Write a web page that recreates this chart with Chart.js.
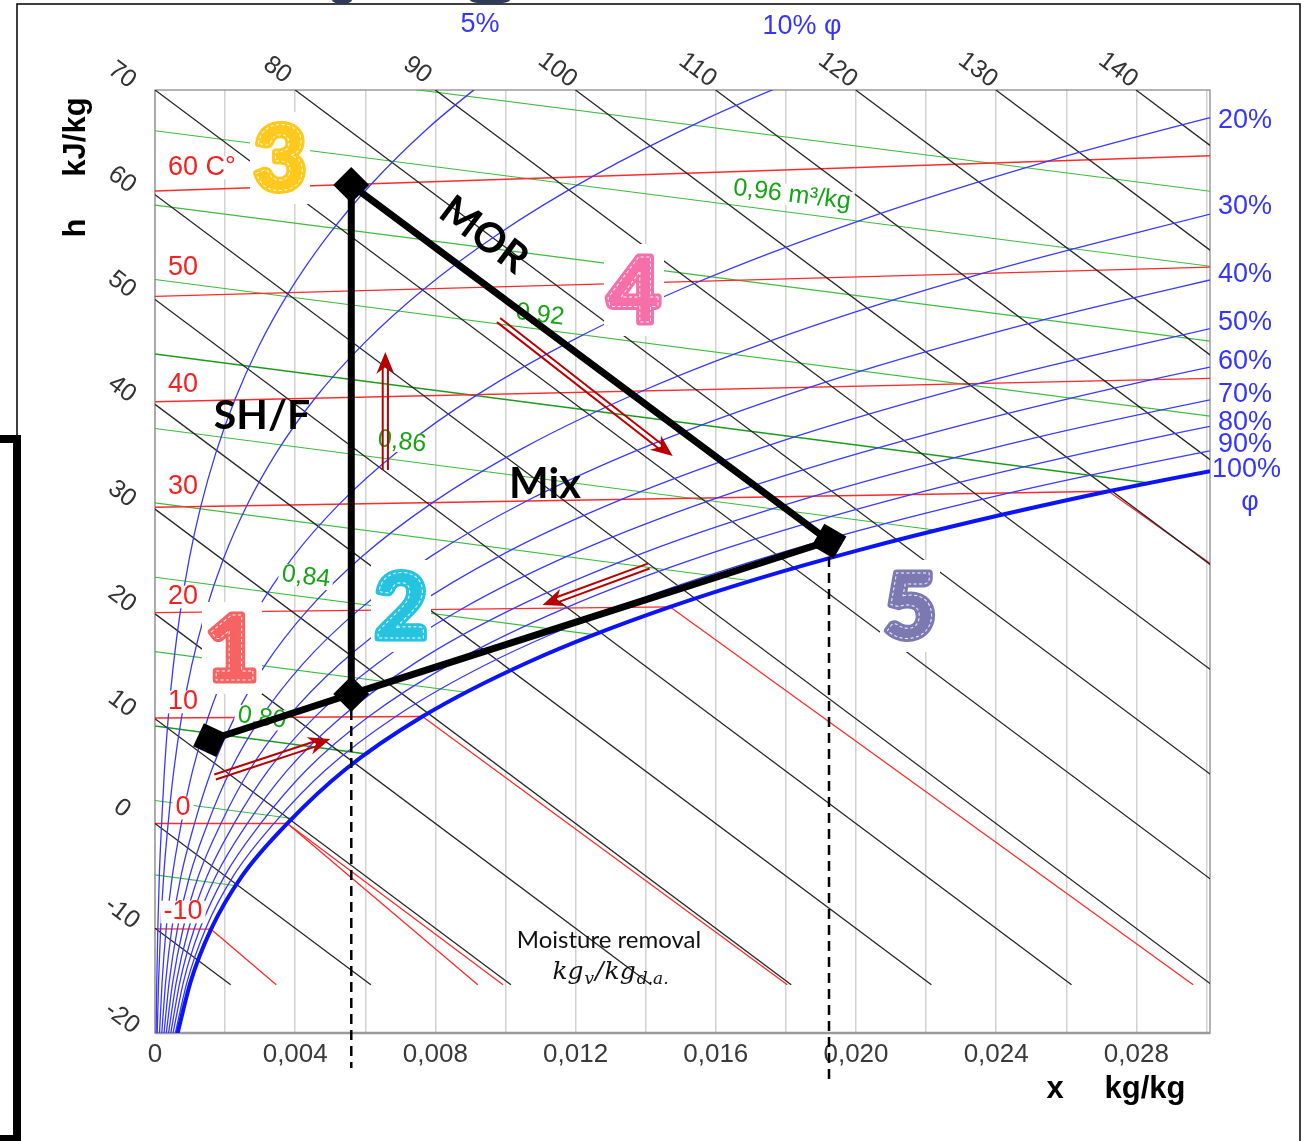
<!DOCTYPE html>
<html>
<head>
<meta charset="utf-8">
<title>h-x diagram</title>
<script src="https://cdn.jsdelivr.net/npm/chart.js@4.4.1/dist/chart.umd.min.js"></script>
<style>
  html, body { margin: 0; padding: 0; background: #fff; }
  canvas { display: block; }
</style>
</head>
<body>
<canvas id="mollier" width="1309" height="1141"></canvas>
<script>
// ---- values: x in g/kg, t in °C, y = oblique h-axis (kJ/kg) ----
const tempsC = [-20, -15, -10, -5, 0, 5, 10, 15, 20, 25, 30, 35, 40, 45, 50, 55, 60, 65, 70];
const rhLevels = [5, 10, 20, 30, 40, 50, 60, 70, 80, 90, 100];
const rh5   = [0.032, 0.051, 0.080, 0.123, 0.188, 0.268, 0.377, 0.524, 0.719, 0.974, 1.306, 1.732, 2.275, 2.958, 3.814, 4.875, 6.181, 7.779, 9.723];
const rh10  = [0.063, 0.102, 0.160, 0.247, 0.375, 0.536, 0.755, 1.048, 1.439, 1.951, 2.617, 3.474, 4.566, 5.945, 7.675, 9.827, 12.486, 15.754, 19.754];
const rh20  = [0.127, 0.203, 0.319, 0.494, 0.751, 1.073, 1.511, 2.100, 2.885, 3.915, 5.257, 6.987, 9.200, 12.005, 15.541, 19.970, 25.484, 32.327];
const rh30  = [0.190, 0.305, 0.479, 0.741, 1.128, 1.611, 2.270, 3.156, 4.338, 5.891, 7.919, 10.540, 13.902, 18.183, 23.607, 30.444];
const rh40  = [0.254, 0.406, 0.639, 0.988, 1.505, 2.150, 3.030, 4.215, 5.797, 7.880, 10.604, 14.133, 18.676, 24.482, 31.879];
const rh50  = [0.317, 0.508, 0.799, 1.236, 1.882, 2.690, 3.792, 5.278, 7.263, 9.881, 13.311, 17.768, 23.521, 30.907];
const rh60  = [0.381, 0.610, 0.958, 1.484, 2.259, 3.231, 4.556, 6.344, 8.736, 11.895, 16.042, 21.444, 28.440, 37.461];
const rh70  = [0.444, 0.711, 1.119, 1.732, 2.637, 3.772, 5.322, 7.414, 10.216, 13.922, 18.797, 25.162, 33.436];
const rh80  = [0.508, 0.813, 1.279, 1.979, 3.016, 4.315, 6.090, 8.487, 11.703, 15.962, 21.575, 28.924, 38.507];
const rh90  = [0.571, 0.915, 1.439, 2.228, 3.395, 4.858, 6.859, 9.565, 13.197, 18.015, 24.378, 32.730];
const rh100 = [0.635, 1.016, 1.600, 2.476, 3.775, 5.403, 7.631, 10.646, 14.698, 20.081, 27.205, 36.580];
const rhCurves = [rh5, rh10, rh20, rh30, rh40, rh50, rh60, rh70, rh80, rh90, rh100];

// isotherms (red): unsaturated part from x = 0 to saturation / right edge
const isoTemps = [-10, 0, 10, 20, 30, 40, 50, 60];
const isoEndX  = [1.600, 3.775, 7.631, 14.698, 27.205, 31, 31, 31];
// fog isotherms below the saturation curve
const fogTemps  = [-10, 0, 0, 10, 20, 30];
const fogStartX = [1.600, 3.775, 3.775, 7.631, 14.698, 27.205];
const fogEndX   = [3.46, 9.21, 9.93, 18.04, 29.62, 31];
const fogEndY   = [-15.4, -15.4, -15.4, -15.4, -15.4, 22.69];

// enthalpy lines (black), kJ/kg, they stop at the lower fog limit
const enthalpyLevels = [-10, 0, 10, 20, 30, 40, 50, 60, 70, 80, 90, 100, 110, 120, 130, 140];
const hLeftLabels = [-20, -10, 0, 10, 20, 30, 40, 50, 60, 70];
const hTopLabels = [80, 90, 100, 110, 120, 130, 140];
const fogFloorY = -15.4;

// specific volume lines (green), m³/kg
const volLevels = [0.76, 0.78, 0.80, 0.82, 0.84, 0.86, 0.88, 0.90, 0.92, 0.94, 0.96, 0.98];
const volStartY = [-4.91, 2.19, 9.30, 16.40, 23.50, 30.60, 37.70, 44.81, 51.91, 59.01, 66.11, 73.22];
const volEndX   = [2.32, 3.93, 6.09, 8.92, 12.52, 17.0, 22.3, 28.36, 31, 31, 31, 31];
const volEndY   = [-5.94, 0.47, 6.61, 12.49, 18.02, 23.17, 27.99, 32.49, 38.48, 45.64, 52.79, 59.95];

// process drawn over the diagram
const stateNames = ['1', '2', '3', '5'];
const stateX = [1.571, 5.60, 5.60, 19.23];
const stateY = [7.96, 12.35, 60.93, 26.95];
const processOrder = [0, 1, 2, 3, 1];       // 1 -> 2 -> 3 -> 5 -> 2
const markerRot = [25, 45, 45, 30];
const dashBottomY = [-23.34, -24.49];        // dashed drops from 2 and 5
const flowArrows = [
  [1.714, 4.43, 5.0, 8.06],
  [6.571, 33.73, 6.571, 44.99],
  [9.80, 48.04, 14.771, 35.06],
  [14.086, 24.57, 11.057, 20.84]
];

const X_MAX = 0.0301, Y_MIN = -20, Y_MAX = 70;

// oblique Mollier ordinate
const mollierY = (t, xg) => t * (1.006 + 0.00186 * xg);
const pt = (xg, y) => ({ x: xg / 1000, y: y });

const lineBase = { showLine: true, pointRadius: 0, pointHoverRadius: 0, fill: false };
const datasets = [];

// overlays (low order = drawn last)
datasets.push({
  data: stateX.map((x, i) => pt(x, stateY[i])),
  showLine: false, pointStyle: 'rect', pointRadius: 18, pointRotation: markerRot,
  backgroundColor: '#000', borderColor: '#000', borderWidth: 0, order: 0, clip: false
});
datasets.push(Object.assign({}, lineBase, {
  data: processOrder.map(i => pt(stateX[i], stateY[i])),
  borderColor: '#000', borderWidth: 7, tension: 0, order: 1, borderJoinStyle: 'miter'
}));
datasets.push(Object.assign({}, lineBase, {
  data: [pt(stateX[1], stateY[1]), pt(stateX[1], dashBottomY[0])],
  borderColor: '#000', borderWidth: 2.5, borderDash: [10, 6], tension: 0, order: 2, clip: false
}));
datasets.push(Object.assign({}, lineBase, {
  data: [pt(stateX[3], stateY[3]), pt(stateX[3], dashBottomY[1])],
  borderColor: '#000', borderWidth: 2.5, borderDash: [10, 6], tension: 0, order: 3, clip: false,
  labelsBelow: true
}));

// saturation curve and relative humidity curves
rhCurves.forEach((arr, k) => {
  const sat = rhLevels[k] === 100;
  datasets.push(Object.assign({}, lineBase, {
    data: arr.map((xg, i) => pt(xg, mollierY(tempsC[i], xg))),
    borderColor: sat ? '#0a14f5' : '#3838ff', borderWidth: sat ? 4 : 1.3,
    cubicInterpolationMode: 'monotone', order: sat ? 10 : 11
  }));
});

// enthalpy lines
enthalpyLevels.forEach(h => {
  const start = h <= Y_MAX ? pt(0, h) : pt((h - Y_MAX) / 2.501, Y_MAX);
  const end = pt((h - fogFloorY) / 2.501, fogFloorY);
  datasets.push(Object.assign({}, lineBase, {
    data: [start, end], borderColor: '#262626', borderWidth: 1.3, tension: 0, order: 12
  }));
});

// isotherms
isoTemps.forEach((t, i) => {
  datasets.push(Object.assign({}, lineBase, {
    data: [pt(0, mollierY(t, 0)), pt(isoEndX[i], mollierY(t, isoEndX[i]))],
    borderColor: '#ff2a2a', borderWidth: 1.4, tension: 0, order: 13
  }));
});
fogTemps.forEach((t, i) => {
  datasets.push(Object.assign({}, lineBase, {
    data: [pt(fogStartX[i], mollierY(t, fogStartX[i])), pt(fogEndX[i], fogEndY[i])],
    borderColor: '#ff2a2a', borderWidth: 1.3, tension: 0, order: 13
  }));
});

// specific volume lines
volLevels.forEach((v, i) => {
  const strong = Math.abs(v - 0.80) < 1e-6 || Math.abs(v - 0.90) < 1e-6;
  datasets.push(Object.assign({}, lineBase, {
    data: [pt(0, volStartY[i]), pt(volEndX[i], volEndY[i])],
    borderColor: strong ? '#1c9a1c' : '#3cbc3c', borderWidth: strong ? 1.6 : 1.1,
    tension: 0, order: 14
  }));
});

// ---- drawing helpers ----
const SANS = '"Liberation Sans", Arial, sans-serif';

function txt(ctx, s, x, y, font, color, align, rot, bg) {
  ctx.save();
  ctx.translate(x, y);
  if (rot) ctx.rotate(rot * Math.PI / 180);
  ctx.font = font;
  ctx.textAlign = align || 'center';
  ctx.textBaseline = 'middle';
  if (bg) {
    const w = ctx.measureText(s).width;
    const size = parseFloat(font.match(/(\d+)px/)[1]);
    const x0 = ctx.textAlign === 'left' ? 0 : ctx.textAlign === 'right' ? -w : -w / 2;
    ctx.fillStyle = '#fff';
    ctx.fillRect(x0 - 3, -size * 0.42, w + 6, size * 0.84);
  }
  ctx.fillStyle = color;
  ctx.fillText(s, 0, 0);
  ctx.restore();
}

function drawArrow(ctx, x1, y1, x2, y2) {
  const dx = x2 - x1, dy = y2 - y1, L = Math.hypot(dx, dy);
  const ux = dx / L, uy = dy / L, nx = -uy, ny = ux;
  const headLen = 22, headW = 9, notch = 15, gap = 2.6;
  const bx = x2 - ux * notch, by = y2 - uy * notch;
  ctx.save();
  ctx.strokeStyle = ctx.fillStyle = '#b80000';
  ctx.lineWidth = 2;
  [-1, 1].forEach(s => {
    ctx.beginPath();
    ctx.moveTo(x1 + nx * gap * s, y1 + ny * gap * s);
    ctx.lineTo(bx + nx * gap * s, by + ny * gap * s);
    ctx.stroke();
  });
  ctx.beginPath();
  ctx.moveTo(x2, y2);
  ctx.lineTo(x2 - ux * headLen + nx * headW, y2 - uy * headLen + ny * headW);
  ctx.lineTo(bx, by);
  ctx.lineTo(x2 - ux * headLen - nx * headW, y2 - uy * headLen - ny * headW);
  ctx.closePath();
  ctx.fill();
  ctx.restore();
}

function bubbleDigit(ctx, ch, cx, cy, color) {
  ctx.save();
  ctx.fillStyle = '#fff';
  ctx.fillRect(cx - 30, cy - 46, 60, 92);
  ctx.font = '900 90px Lato, "Noto Sans", sans-serif';
  ctx.textAlign = 'center';
  ctx.textBaseline = 'alphabetic';
  const by = cy + 32;
  ctx.lineJoin = 'round';
  ctx.strokeStyle = color;
  ctx.lineWidth = 7;
  ctx.strokeText(ch, cx, by);
  ctx.fillStyle = color;
  ctx.fillText(ch, cx, by);
  ctx.setLineDash([3, 2.5]);
  ctx.strokeStyle = 'rgba(255,255,255,0.85)';
  ctx.lineWidth = 1;
  ctx.strokeText(ch, cx, by);
  ctx.restore();
}

function mathUnit(ctx, cx, baseY) {
  const big = 'italic 25px "DejaVu Serif", serif';
  const small = 'italic 17px "DejaVu Serif", serif';
  const parts = [['kg', big, 0], ['v', small, 5], ['/', big, 0], ['kg', big, 0], ['d.a.', small, 5]];
  ctx.save();
  ctx.fillStyle = '#111';
  ctx.textBaseline = 'alphabetic';
  ctx.textAlign = 'left';
  let total = 0;
  parts.forEach(p => { ctx.font = p[1]; total += ctx.measureText(p[0]).width + 1; });
  let x = cx - total / 2;
  parts.forEach(p => {
    ctx.font = p[1];
    ctx.fillText(p[0], x, baseY + p[2]);
    x += ctx.measureText(p[0]).width + 1;
  });
  ctx.restore();
}

function drawChartLabels(chart) {
  const ctx = chart.ctx, xs = chart.scales.x, ys = chart.scales.y;
  const hFont = '25px ' + SANS;
  hLeftLabels.forEach(h => {
    txt(ctx, String(h), 122, ys.getPixelForValue(h) - 15, hFont, '#333', 'center', 37);
  });
  hTopLabels.forEach(h => {
    txt(ctx, String(h), xs.getPixelForValue((h - Y_MAX) / 2501) - 18, 70, hFont, '#333', 'center', 37);
  });

  const red = '#f52020', rFont = '27px ' + SANS;
  txt(ctx, '60 C°', 168, 168, rFont, red, 'left', 0, true);
  [['50', 268], ['40', 385], ['30', 487], ['20', 597], ['10', 702], ['0', 808], ['-10', 912]].forEach(p => {
    txt(ctx, p[0], 183, p[1], rFont, red, 'center', 0, true);
  });

  const green = '#17a317', gFont = '25px ' + SANS;
  [['0,80', 262, 718], ['0,84', 306, 577], ['0,86', 402, 442], ['0,92', 540, 315], ['0,96 m³/kg', 792, 195]].forEach(p => {
    txt(ctx, p[0], p[1], p[2], gFont, green, 'center', 7, true);
  });

  const blue = '#3535ff', bFont = '27px ' + SANS;
  [['20%', 121], ['30%', 207], ['40%', 275], ['50%', 323], ['60%', 362], ['70%', 395], ['80%', 423], ['90%', 445]].forEach(p => {
    txt(ctx, p[0], 1218, p[1], bFont, blue, 'left');
  });
  txt(ctx, '100%', 1212, 470, bFont, blue, 'left');
  txt(ctx, 'φ', 1250, 503, bFont, blue, 'center');
  txt(ctx, '5%', 480, 25, bFont, blue, 'center');
  txt(ctx, '10% φ', 802, 27, bFont, blue, 'center');
}

const decor = {
  id: 'decor',
  beforeDatasetsDraw(chart) {
    const ctx = chart.ctx, a = chart.chartArea;
    ctx.save();
    ctx.strokeStyle = '#9a9a9a';
    ctx.lineWidth = 1.5;
    ctx.strokeRect(a.left, a.top, a.right - a.left, a.bottom - a.top);
    ctx.lineWidth = 2.5;
    ctx.beginPath();
    ctx.moveTo(a.left, a.bottom);
    ctx.lineTo(a.right, a.bottom);
    ctx.stroke();
    ctx.restore();
  },
  beforeDatasetDraw(chart, args) {
    if (chart.data.datasets[args.index].labelsBelow) drawChartLabels(chart);
  },
  afterDatasetsDraw(chart) {
    const ctx = chart.ctx, xs = chart.scales.x, ys = chart.scales.y;
    flowArrows.forEach(f => {
      drawArrow(ctx, xs.getPixelForValue(f[0] / 1000), ys.getPixelForValue(f[1]),
                     xs.getPixelForValue(f[2] / 1000), ys.getPixelForValue(f[3]));
    });
    const bold = 'bold 41px Lato, "Open Sans", sans-serif';
    txt(ctx, 'MOR', 484, 235, bold, '#000', 'center', 37);
    txt(ctx, 'SH/F', 262, 416, bold, '#000', 'center');
    txt(ctx, 'Mix', 545, 484, 'bold 42px Lato, "Open Sans", sans-serif', '#000', 'center');
    txt(ctx, 'Moisture removal', 609, 940, '24px Lato, "Open Sans", sans-serif', '#111', 'center');
    mathUnit(ctx, 611, 979);

    bubbleDigit(ctx, '1', 232, 648, '#f76262');
    bubbleDigit(ctx, '2', 401, 606, '#25c3df');
    bubbleDigit(ctx, '3', 280, 158, '#ffc81c');
    bubbleDigit(ctx, '4', 634, 290, '#f66fa9');
    bubbleDigit(ctx, '5', 910, 606, '#7b79b1');
  },
  afterDraw(chart) {
    const ctx = chart.ctx;
    ctx.save();
    // page frame
    ctx.strokeStyle = '#000';
    ctx.lineWidth = 1.5;
    ctx.beginPath();
    ctx.moveTo(17, 437);
    ctx.lineTo(17, 4);
    ctx.lineTo(1300, 4);
    ctx.lineTo(1300, 1141);
    ctx.stroke();
    ctx.fillStyle = '#000';
    ctx.fillRect(0, 435, 21, 706);
    ctx.fillStyle = '#fff';
    ctx.fillRect(0, 443, 13, 692);
    // clipped marks at the top edge
    ctx.fillStyle = '#2d3b57';
    ctx.beginPath(); ctx.ellipse(342, 0, 10, 4, 0, 0, Math.PI * 2); ctx.fill();
    ctx.beginPath(); ctx.ellipse(490, 0, 20, 4, 0, 0, Math.PI * 2); ctx.fill();
    ctx.restore();

    // axis titles
    const tFont = 'bold 31px ' + SANS;
    txt(ctx, 'kJ/kg', 76, 137, tFont, '#000', 'center', -90);
    txt(ctx, 'h', 76, 228, tFont, '#000', 'center', -90);
    txt(ctx, 'x', 1055, 1089, tFont, '#000', 'center');
    txt(ctx, 'kg/kg', 1145, 1089, tFont, '#000', 'center');
  }
};

new Chart(document.getElementById('mollier'), {
  type: 'scatter',
  data: { datasets: datasets },
  options: {
    responsive: false,
    animation: false,
    devicePixelRatio: 1,
    events: [],
    layout: { padding: { left: 155, right: 99, top: 90, bottom: 58 } },
    plugins: { legend: { display: false }, tooltip: { enabled: false } },
    elements: { line: { capBezierPoints: false, borderCapStyle: 'butt' } },
    scales: {
      x: {
        type: 'linear', min: 0, max: X_MAX,
        afterFit(s) { s.height = 50; },
        border: { display: false },
        grid: { color: '#d2d2d2', lineWidth: 1.5, drawTicks: false },
        ticks: {
          stepSize: 0.002, includeBounds: false, autoSkip: false, maxRotation: 0, padding: 6,
          color: '#3a3a3a', font: { family: 'Liberation Sans, Arial, sans-serif', size: 26 },
          callback: v => {
            const k = Math.round(v * 1000);
            if (k % 4 !== 0) return '';
            return k === 0 ? '0' : (k / 1000).toFixed(3).replace('.', ',');
          }
        }
      },
      y: { type: 'linear', display: false, min: Y_MIN, max: Y_MAX }
    }
  },
  plugins: [decor]
});
</script>
</body>
</html>
